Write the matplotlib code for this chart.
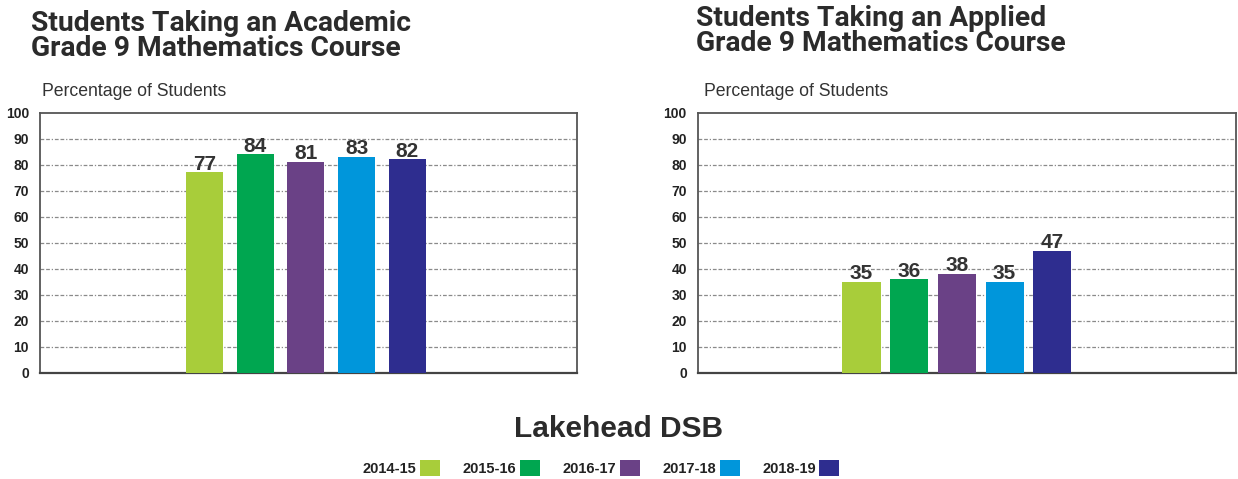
import matplotlib.pyplot as plt
import numpy as np

# data
years = ['2014-15', '2015-16', '2016-17', '2017-18', '2018-19']
academic = [77, 84, 81, 83, 82]
applied = [35, 36, 38, 35, 47]
colors = ['#a8cd3a', '#00a650', '#6a4186', '#0096db', '#2e2d8f']
yticks = [0, 10, 20, 30, 40, 50, 60, 70, 80, 90, 100]

title_font = 'Roboto'
body_font = 'Liberation Sans'

fig = plt.figure(figsize=(12.38, 4.79), dpi=100)


def draw_panel(ax, values, xlim, width):
    x = np.arange(len(values))
    bars = ax.bar(x, values, width=width, color=colors, zorder=3)
    ax.bar_label(bars, labels=[str(v) for v in values], padding=-1, fontsize=15,
                 fontweight='bold', color='#333333', family=body_font)
    ax.set_ylim(0, 100)
    ax.set_xlim(*xlim)
    ax.set_yticks(yticks)
    ax.set_yticklabels([str(t) for t in yticks], fontsize=10, fontweight='bold',
                       family=body_font, color='#222222')
    ax.set_xticks([])
    ax.tick_params(axis='y', length=0, pad=8)
    ax.yaxis.grid(True, color='#8a8a8a', linewidth=0.9, linestyle=(0, (3, 1.5, 3, 1.5, 1, 1.5)), zorder=0)
    for side in ['left', 'top', 'right']:
        ax.spines[side].set_color('#555555')
        ax.spines[side].set_linewidth(1.3)
    ax.spines['bottom'].set_color('#444444')
    ax.spines['bottom'].set_linewidth(1.6)
    # no gridlines on 0 and 100
    gl = ax.yaxis.get_gridlines()
    gl[0].set_visible(False)
    gl[-1].set_visible(False)
    return bars


ax1 = fig.add_axes([0.0323, 0.2213, 0.4338, 0.5438])
bars = draw_panel(ax1, academic, (-3.24, 7.34), 0.73)
ax2 = fig.add_axes([0.5638, 0.2213, 0.4345, 0.5438])
draw_panel(ax2, applied, (-3.43, 7.85), 0.8)

fig.text(31 / 1238, 1 - 10 / 479, 'Students Taking an Academic\nGrade 9 Mathematics Course',
         ha='left', va='top', fontsize=20.3, fontweight='bold', family=title_font,
         color='#2b2b2b', linespacing=0.92)
fig.text(696 / 1238, 1 - 5 / 479, 'Students Taking an Applied\nGrade 9 Mathematics Course',
         ha='left', va='top', fontsize=20.3, fontweight='bold', family=title_font,
         color='#2b2b2b', linespacing=0.92)

fig.text(42 / 1238, 1 - 91 / 479, 'Percentage of Students', ha='left', va='center',
         fontsize=12.7, family=body_font, color='#333333')
fig.text(704 / 1238, 1 - 91 / 479, 'Percentage of Students', ha='left', va='center',
         fontsize=12.7, family=body_font, color='#333333')

fig.text(618 / 1238, 1 - 429 / 479, 'Lakehead DSB', ha='center', va='center',
         fontsize=21.5, fontweight='bold', family=body_font, color='#2b2b2b')

leg = fig.legend(bars, years, loc='center', bbox_to_anchor=(601 / 1238, 1 - 468 / 479),
                 ncol=5, frameon=False, markerfirst=False, handlelength=1.37, handleheight=1.3,
                 handletextpad=0.25, columnspacing=1.55,
                 prop={'family': body_font, 'weight': 'bold', 'size': 10.5})
for t in leg.get_texts():
    t.set_color('#222222')

fig.savefig('out.png', dpi=100)
